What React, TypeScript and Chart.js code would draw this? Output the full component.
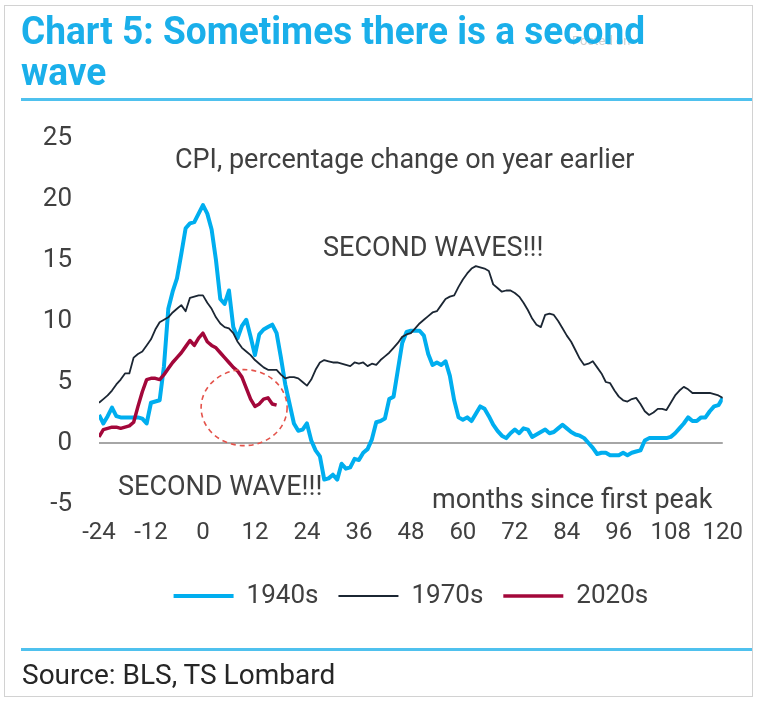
import React, { useEffect, useRef } from "react";
import { Chart, registerables } from "chart.js";

Chart.register(...registerables);

// ---- data (months since first peak, CPI % y/y) ----
const MONTH_START = -24;
const SERIES_LABELS = ["1940s", "1970s", "2020s"];
const X_TICKS = [-24, -12, 0, 12, 24, 36, 48, 60, 72, 84, 96, 108, 120];
const Y_TICKS = [-5, 0, 5, 10, 15, 20, 25];

const CPI_1940S = [
  2.3, 1.6, 2.2, 2.9, 2.2, 2.1, 2.1, 2.1, 2.1, 2.1,
  2.0, 1.6, 3.3, 3.4, 3.5, 6.3, 11.0, 12.4, 13.5, 15.5,
  17.6, 18.0, 18.1, 18.8, 19.5, 18.8, 17.5, 15.0, 11.8, 11.4,
  12.5, 9.5, 8.6, 9.6, 10.1, 8.7, 7.2, 8.9, 9.3, 9.5,
  9.7, 9.0, 7.0, 4.8, 3.2, 1.6, 1.0, 1.1, 1.6, 0.2,
  -0.6, -1.1, -3.0, -2.9, -2.6, -3.0, -1.7, -2.1, -2.0, -1.3,
  -1.4, -0.8, -0.5, 0.3, 1.7, 1.8, 2.0, 3.6, 3.8, 6.0,
  8.2, 9.1, 9.2, 9.2, 9.2, 8.8, 7.3, 6.4, 6.6, 6.4,
  6.7, 5.5, 3.5, 2.1, 1.9, 2.1, 1.8, 2.4, 3.0, 2.8,
  2.2, 1.5, 1.0, 0.6, 0.4, 0.8, 1.1, 0.8, 1.2, 1.1,
  0.5, 0.7, 0.9, 1.1, 0.8, 0.9, 1.2, 1.5, 1.2, 0.9,
  0.7, 0.6, 0.4, 0.0, -0.4, -0.9, -0.8, -0.8, -1.0, -1.0,
  -1.0, -0.8, -1.0, -0.8, -0.7, -0.6, 0.2, 0.4, 0.4, 0.4,
  0.4, 0.4, 0.5, 0.8, 1.2, 1.6, 2.1, 1.8, 1.8, 2.1,
  2.1, 2.6, 3.0, 3.1, 3.7,
];

const CPI_1970S = [
  3.3, 3.6, 3.9, 4.3, 4.8, 5.2, 5.7, 5.7, 7.0, 7.3,
  7.5, 8.0, 8.5, 9.3, 9.9, 10.1, 10.3, 10.7, 11.0, 11.3,
  10.8, 11.9, 12.0, 12.1, 12.1, 11.5, 11.0, 10.3, 9.8, 9.5,
  9.4, 9.0, 8.3, 7.8, 7.5, 7.2, 6.8, 6.5, 6.2, 6.0,
  6.0, 6.0, 5.6, 5.3, 5.4, 5.4, 5.3, 5.0, 4.7, 5.2,
  6.0, 6.6, 6.8, 6.7, 6.6, 6.6, 6.5, 6.4, 6.3, 6.6,
  6.5, 6.6, 6.3, 6.5, 6.4, 6.8, 7.1, 7.4, 7.8, 8.2,
  8.7, 8.9, 9.0, 9.4, 9.8, 10.1, 10.4, 10.7, 10.8, 11.3,
  11.8, 12.0, 12.1, 12.8, 13.4, 13.9, 14.3, 14.5, 14.4, 14.3,
  14.1, 13.0, 12.7, 12.4, 12.5, 12.5, 12.3, 12.0, 11.5, 10.9,
  10.2, 9.7, 9.5, 10.5, 10.6, 10.5, 10.0, 9.4, 8.8, 8.3,
  7.6, 6.9, 6.4, 6.5, 6.7, 6.2, 5.7, 5.0, 4.9, 4.3,
  3.8, 3.5, 3.4, 3.6, 3.7, 3.2, 2.6, 2.3, 2.5, 2.8,
  2.8, 2.7, 3.3, 3.9, 4.3, 4.6, 4.4, 4.1, 4.1, 4.1,
  4.1, 4.1, 4.0, 3.9, 3.7,
];

const CPI_2020S = [
  0.5, 1.1, 1.2, 1.3, 1.3, 1.2, 1.3, 1.4, 1.7, 3.0,
  4.2, 5.2, 5.3, 5.3, 5.2, 5.6, 6.1, 6.6, 7.0, 7.4,
  7.9, 8.4, 8.0, 8.6, 9.0, 8.3, 8.0, 7.8, 7.4, 7.0,
  6.6, 6.2, 5.9, 5.4, 4.5, 3.6, 3.0, 3.2, 3.6, 3.7,
  3.2, 3.1,
];

// highlighted "second wave" region (data units)
const CIRCLE_CENTER = { month: 9.5, value: 2.9 };

const FONT = "Roboto";
const TEXT = "#404040";

const toPoints = (vals: number[]) =>
  vals.map((v, i) => ({ x: MONTH_START + i, y: v }));

const annotationPlugin = {
  id: "annotations",
  afterDatasetsDraw(chart: any) {
    const { ctx } = chart;
    const x = chart.scales.x;
    const y = chart.scales.y;
    ctx.save();
    // dashed circle around 2020s tail
    ctx.beginPath();
    ctx.setLineDash([5, 4]);
    ctx.strokeStyle = "#E4534B";
    ctx.lineWidth = 1.6;
    ctx.ellipse(
      x.getPixelForValue(CIRCLE_CENTER.month),
      y.getPixelForValue(CIRCLE_CENTER.value),
      43,
      38,
      0,
      0,
      Math.PI * 2
    );
    ctx.stroke();
    ctx.setLineDash([]);
    // texts
    ctx.fillStyle = TEXT;
    ctx.font = `27px ${FONT}`;
    ctx.textAlign = "left";
    ctx.textBaseline = "alphabetic";
    ctx.fillText("CPI, percentage change on year earlier", 175, 168);
    ctx.fillText("SECOND WAVES!!!", 323, 256);
    ctx.fillText("SECOND WAVE!!!", 118, 495);
    ctx.fillText("months since first peak", 432, 508);
    ctx.restore();
  },
};

function ChartCanvas() {
  const ref = useRef<HTMLCanvasElement | null>(null);
  useEffect(() => {
    if (!ref.current) return;
    const chart = new Chart(ref.current, {
      type: "line",
      data: {
        datasets: [
          {
            label: SERIES_LABELS[0],
            data: toPoints(CPI_1940S),
            borderColor: "#00AEEF",
            backgroundColor: "#00AEEF",
            borderWidth: 4,
            pointRadius: 0,
            tension: 0,
            borderJoinStyle: "round",
            order: 2,
          },
          {
            label: SERIES_LABELS[1],
            data: toPoints(CPI_1970S),
            borderColor: "#1B2633",
            backgroundColor: "#1B2633",
            borderWidth: 1.8,
            pointRadius: 0,
            tension: 0,
            borderJoinStyle: "round",
            order: 1,
          },
          {
            label: SERIES_LABELS[2],
            data: toPoints(CPI_2020S),
            borderColor: "#A3073A",
            backgroundColor: "#A3073A",
            borderWidth: 3.5,
            pointRadius: 0,
            tension: 0,
            borderJoinStyle: "round",
            order: 0,
          },
        ],
      },
      options: {
        animation: false,
        responsive: false,
        maintainAspectRatio: false,
        layout: { padding: { left: 30, right: 32, top: 138, bottom: 86 } },
        plugins: {
          tooltip: { enabled: false },
          legend: {
            position: "bottom",
            fullSize: false,
            labels: {
              usePointStyle: true,
              pointStyle: "line",
              pointStyleWidth: 60,
              boxWidth: 60,
              padding: 20,
              color: TEXT,
              font: { family: FONT, size: 26 },
              sort: (a: any, b: any) => a.datasetIndex - b.datasetIndex,
            },
          },
        },
        scales: {
          x: {
            type: "linear",
            min: -24,
            max: 120,
            afterBuildTicks: (scale: any) => {
              scale.ticks = X_TICKS.map((v) => ({ value: v }));
            },
            afterFit: (scale: any) => {
              scale.height = 59;
            },
            grid: { display: false, drawTicks: false },
            border: { display: false },
            ticks: {
              color: TEXT,
              font: { family: FONT, size: 24 },
              padding: 15,
              maxRotation: 0,
              autoSkip: false,
            },
          },
          y: {
            min: -5,
            max: 25,
            afterBuildTicks: (scale: any) => {
              scale.ticks = Y_TICKS.map((v) => ({ value: v }));
            },
            afterFit: (scale: any) => {
              scale.width = 69;
            },
            grid: {
              drawTicks: false,
              lineWidth: 2,
              color: (c: any) => (c.tick && c.tick.value === 0 ? "#A6A6A6" : "rgba(0,0,0,0)"),
            },
            border: { display: false },
            ticks: {
              color: TEXT,
              font: { family: FONT, size: 26 },
              padding: 27,
            },
          },
        },
      },
      plugins: [annotationPlugin],
    } as any);
    return () => chart.destroy();
  }, []);
  return (
    <canvas
      ref={ref}
      width={758}
      height={705}
      style={{ position: "absolute", left: 0, top: 0, width: 758, height: 705 }}
    />
  );
}

export default function App() {
  return (
    <div
      style={{
        position: "absolute",
        left: 0,
        top: 0,
        width: 758,
        height: 705,
        background: "#ffffff",
        fontFamily: FONT,
        overflow: "hidden",
      }}
    >
      <ChartCanvas />
      <div
        style={{
          position: "absolute",
          left: 4,
          top: 5,
          width: 749,
          height: 692,
          border: "1px solid #d2d2d2",
          boxSizing: "border-box",
          pointerEvents: "none",
        }}
      />
      <div
        style={{
          position: "absolute",
          left: 572,
          top: 34,
          fontSize: 13,
          color: "#d0d0d0",
          lineHeight: "14px",
        }}
      >
        Posted on
      </div>
      <div
        style={{
          position: "absolute",
          left: 21,
          top: 11,
          fontSize: 38,
          fontWeight: 700,
          color: "#1AAFEA",
          lineHeight: "41px",
          whiteSpace: "nowrap",
          transform: "scaleX(0.975)",
          transformOrigin: "left top",
        }}
      >
        Chart 5: Sometimes there is a second
        <br />
        wave
      </div>
      <div
        style={{
          position: "absolute",
          left: 21,
          top: 98,
          width: 731,
          height: 3,
          background: "#4FC1EE",
        }}
      />
      <div
        style={{
          position: "absolute",
          left: 21,
          top: 648,
          width: 731,
          height: 3,
          background: "#4FC1EE",
        }}
      />
      <div
        style={{
          position: "absolute",
          left: 22,
          top: 659,
          fontSize: 28,
          color: "#262626",
          lineHeight: "32px",
          whiteSpace: "nowrap",
        }}
      >
        Source: BLS, TS Lombard
      </div>
    </div>
  );
}
